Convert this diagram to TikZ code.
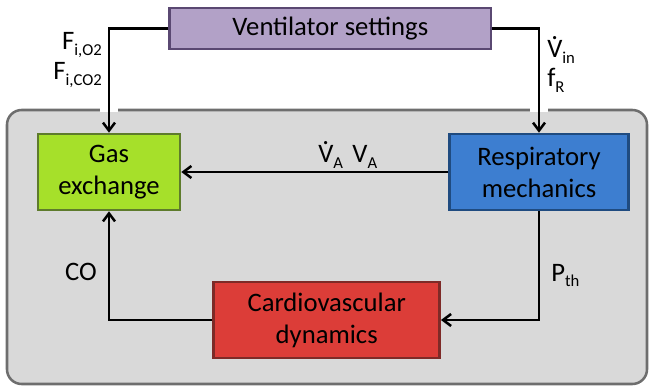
\documentclass[tikz,border=0pt]{standalone}
\usepackage{fontspec}
\setmainfont{Carlito}
\usepackage{xcolor}
\definecolor{ventFill}{HTML}{B2A1C7}
\definecolor{ventLine}{HTML}{5A4872}
\definecolor{gasFill}{HTML}{A6E02A}
\definecolor{gasLine}{HTML}{5E7B2C}
\definecolor{respFill}{HTML}{3D7ED0}
\definecolor{respLine}{HTML}{1F4B80}
\definecolor{cardFill}{HTML}{DC3D38}
\definecolor{cardLine}{HTML}{7E2A27}
\definecolor{bodyFill}{HTML}{D9D9D9}
\definecolor{bodyLine}{HTML}{6E6E6E}
\usetikzlibrary{arrows.meta,positioning}
\newcommand{\subtxt}[1]{\raisebox{-4pt}{\fontsize{12.5}{12.5}\selectfont #1}}
\newcommand{\dotV}{\ooalign{V\cr\hidewidth\raisebox{0.7em}{.}\hidewidth\cr}}
\tikzset{
  >={Straight Barb[length=6pt,width=9pt]},
  every picture/.append style={font=\fontsize{20}{24}\selectfont},
  block/.style={rectangle,line width=1.9pt,align=center,inner sep=2pt,minimum height=57pt},
  ventbox/.style={block,fill=ventFill,draw=ventLine,minimum height=31pt},
  gasbox/.style={block,fill=gasFill,draw=gasLine},
  respbox/.style={block,fill=respFill,draw=respLine},
  cardbox/.style={block,fill=cardFill,draw=cardLine},
  link/.style={->,line width=1.9pt,black},
  sig/.style={inner sep=0pt,align=left},
}

\begin{document}
\begin{tikzpicture}[x=0.75pt,y=-0.75pt]
  \useasboundingbox (0,0) rectangle (649,388);

  % the patient: grey body
  \draw[fill=bodyFill, draw=bodyLine, line width=1.9pt, rounded corners=11pt] (7,110) rectangle (647,384);
  \fill[white] (100,108.2) rectangle (118,111.8);
  \fill[white] (530,108.2) rectangle (548,111.8);

  \node[ventbox, minimum width=241pt] (vent) at (330.3,28.5) {Ventilator settings};
  \node[gasbox, minimum width=106.5pt] (gas) at (109,172) {Gas\\exchange};
  \node[respbox, minimum width=134pt] (resp) at (539,172) {Respiratory\\mechanics};
  \node[cardbox, minimum width=169.5pt] (card) at (326.7,320) {Cardiovascular\\dynamics};

  \draw[link] (vent.west) -| (gas.north);
  \draw[link] (vent.east) -| (resp.north);
  \draw[link] (resp.west) -- (gas.east);
  \draw[link] (resp.south) |- (card.east);
  \draw[link] (card.west) -| (gas.south);

  \node[sig, anchor=base east] (fio) at (102,50) {F\subtxt{i,O2}};
  \node[sig, anchor=base east] (fico) at (102,80) {F\subtxt{i,CO2}};
  \node[sig, anchor=base west] (vin) at (547,58) {\dotV\subtxt{in}};
  \node[sig, anchor=base west] (fr) at (547,87) {f\subtxt{R}};
  \node[sig, anchor=base west] (va) at (318,163) {\dotV\subtxt{A}\hspace{7pt}V\subtxt{A}};
  \node[sig, anchor=base east] (co) at (97,280) {CO};
  \node[sig, anchor=base west] (pth) at (551,281) {P\subtxt{th}};
\end{tikzpicture}
\end{document}
